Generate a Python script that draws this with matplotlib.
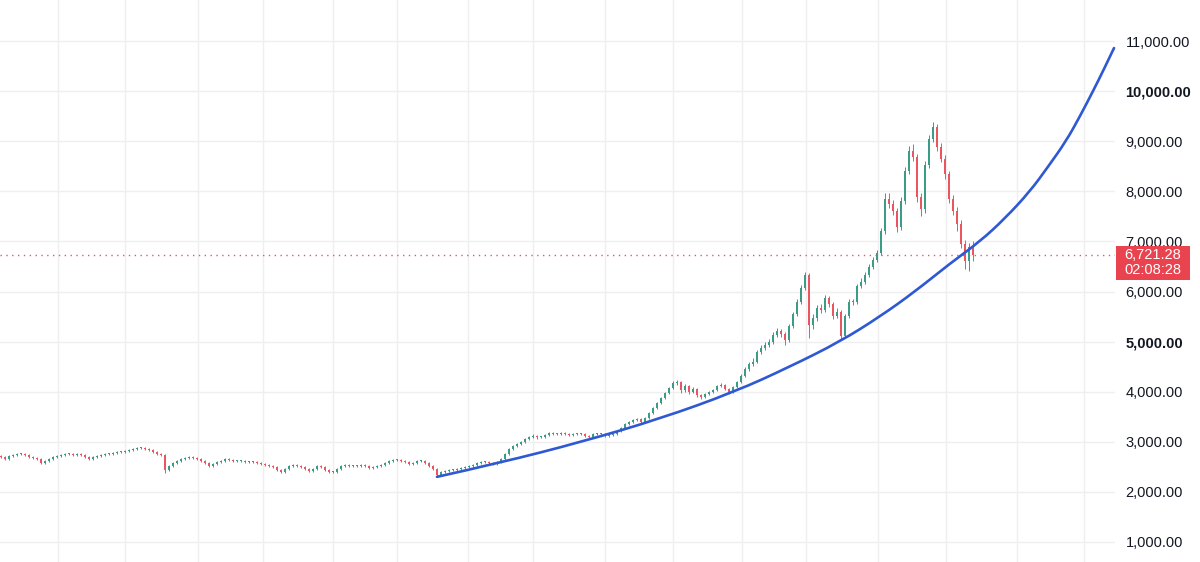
import numpy as np
import matplotlib
matplotlib.use("Agg")
import matplotlib.pyplot as plt
from matplotlib.patches import Rectangle, PathPatch
from matplotlib.path import Path
from matplotlib.transforms import blended_transform_factory

# ---- data (bar index, price) ----
closes = [2700,2660,2720,2740,2760,2760,2740,2700,2680,2660,
          2580,2620,2660,2700,2720,2740,2760,2760,2740,2760,
          2740,2700,2660,2700,2720,2740,2760,2760,2780,2800,
          2800,2820,2840,2860,2880,2880,2860,2840,2800,2760,
          2740,2440,2520,2580,2620,2660,2680,2700,2680,2660,
          2620,2580,2520,2560,2600,2620,2660,2640,2620,2620,
          2620,2600,2600,2600,2580,2560,2540,2520,2500,2440,
          2400,2460,2520,2540,2520,2500,2460,2420,2460,2520,
          2500,2440,2400,2400,2460,2520,2540,2520,2520,2520,
          2540,2520,2480,2500,2520,2540,2580,2620,2640,2640,
          2620,2600,2560,2580,2620,2620,2580,2520,2460,2340,
          2400,2420,2440,2440,2460,2480,2500,2520,2540,2580,
          2600,2600,2580,2560,2600,2660,2760,2860,2920,2960,
          3000,3060,3100,3120,3100,3100,3140,3180,3160,3160,
          3180,3160,3140,3160,3160,3160,3120,3100,3160,3160,
          3160,3120,3140,3160,3220,3280,3360,3400,3440,3460,
          3400,3480,3580,3680,3780,3880,3980,4080,4180,4200,
          4040,4120,4000,4060,3940,3900,3960,4000,4040,4120,
          4140,4060,4000,4100,4200,4320,4460,4560,4600,4800,
          4880,4940,5000,5140,5220,5160,5040,5320,5560,5800,
          6080,6320,5340,5480,5680,5640,5880,5760,5520,5600,
          5120,5520,5800,5800,6120,6200,6320,6480,6620,6760,
          7200,7840,7740,7600,7280,7800,8400,8800,8680,7880,
          7640,8520,9040,9280,8880,8640,8340,7840,7600,7340,
          6940,6600,6880,6721.28]
highs = [2740,2720,2740,2760,2780,2780,2780,2760,2720,2700,
         2680,2640,2680,2720,2740,2760,2780,2780,2780,2780,
         2780,2760,2720,2720,2740,2760,2780,2780,2800,2820,
         2820,2840,2860,2880,2900,2900,2900,2880,2860,2820,
         2780,2760,2540,2600,2640,2680,2700,2720,2720,2700,
         2680,2640,2600,2580,2620,2640,2680,2680,2660,2640,
         2640,2640,2620,2620,2620,2600,2580,2560,2540,2520,
         2460,2480,2540,2560,2560,2540,2520,2480,2480,2540,
         2540,2520,2460,2420,2480,2540,2560,2560,2540,2540,
         2560,2560,2540,2520,2540,2560,2600,2640,2660,2660,
         2660,2640,2620,2600,2640,2640,2640,2600,2540,2480,
         2420,2440,2460,2460,2480,2500,2520,2540,2560,2600,
         2620,2620,2620,2600,2620,2680,2780,2880,2940,2980,
         3020,3080,3120,3160,3140,3120,3160,3200,3200,3180,
         3200,3200,3180,3180,3180,3180,3180,3140,3180,3180,
         3180,3180,3160,3180,3240,3300,3380,3420,3460,3480,
         3480,3500,3600,3700,3800,3900,4000,4100,4220,4240,
         4220,4160,4140,4100,4080,3960,3980,4020,4060,4140,
         4180,4160,4080,4120,4220,4360,4500,4600,4680,4840,
         4940,5000,5060,5200,5280,5260,5200,5360,5600,5860,
         6140,6380,6360,5560,5740,5760,5940,5920,5800,5680,
         5640,5560,5860,5860,6160,6260,6380,6540,6680,6820,
         7260,7960,7960,7820,7660,7880,8480,8900,8940,8740,
         7960,8600,9120,9380,9340,8960,8720,8400,7920,7680,
         7420,7020,6960,7000]
lows = [2680,2640,2640,2700,2720,2740,2720,2680,2660,2640,
        2560,2560,2600,2640,2680,2700,2720,2740,2720,2720,
        2720,2680,2640,2640,2680,2700,2720,2740,2740,2760,
        2780,2780,2800,2820,2840,2860,2840,2820,2780,2740,
        2720,2380,2420,2500,2560,2600,2640,2660,2660,2640,
        2600,2560,2500,2500,2540,2580,2600,2620,2600,2600,
        2600,2580,2580,2580,2560,2540,2520,2500,2480,2420,
        2380,2380,2440,2500,2500,2480,2440,2400,2400,2440,
        2480,2420,2380,2380,2380,2440,2500,2500,2500,2500,
        2500,2500,2460,2460,2480,2500,2520,2560,2600,2620,
        2600,2580,2540,2540,2560,2600,2560,2500,2440,2300,
        2320,2380,2400,2420,2420,2440,2460,2480,2500,2520,
        2560,2580,2560,2540,2540,2580,2640,2740,2840,2900,
        2940,2980,3040,3080,3060,3080,3080,3120,3140,3140,
        3140,3140,3120,3120,3140,3140,3100,3080,3080,3140,
        3140,3100,3100,3120,3140,3200,3260,3340,3380,3420,
        3360,3380,3460,3560,3660,3760,3860,3960,4060,4140,
        3980,4000,3960,3980,3900,3860,3880,3940,3980,4020,
        4100,4040,3960,3980,4080,4180,4300,4420,4520,4580,
        4760,4840,4900,4960,5100,5100,4940,5000,5280,5520,
        5760,6040,5080,5260,5420,5580,5600,5700,5460,5480,
        5040,5080,5480,5740,5760,6080,6160,6280,6440,6580,
        6720,7140,7660,7520,7180,7220,7740,8340,8600,7780,
        7500,7560,8460,8980,8800,8580,8240,7760,7520,7200,
        6860,6440,6400,6600]
first_open = 2720
last_price = 6721.28
countdown = "02:08:28"

# time-axis grid (bar index of period boundaries)
time_grid = [14.25, 31, 49.25, 65.5, 83, 99, 116.75, 133, 151, 168,
             185.25, 201.25, 219.25, 236.25, 254, 270.75]
price_ticks = [1000, 2000, 3000, 4000, 5000, 6000, 7000, 8000, 9000, 10000, 11000]
bold_ticks = [5000, 10000]

# hand-drawn support curve (bar index, price)
curve_x = [109, 124.75, 145.25, 164.75, 183.5, 197.25, 209.75, 219.75, 228.5, 237.25,
           244.75, 251, 257.25, 261.75, 266.25, 269.75, 273, 275.75, 278.25]
curve_y = [2300, 2580, 3000, 3460, 4000, 4500, 5000, 5500, 6000, 6560,
           7000, 7460, 8000, 8490, 9000, 9500, 10000, 10440, 10860]

UP, DN = '#3a9c86', '#ea5560'
GRID = '#efeff1'
TXT = '#131722'

plt.rcParams['font.family'] = ['Liberation Sans', 'DejaVu Sans']

fig = plt.figure(figsize=(12, 5.62), dpi=100)
ax = fig.add_axes([0, 0, 1115/1200, 1])

c = np.array(closes, float)
o = np.r_[first_open, c[:-1]]
h = np.array(highs, float); l = np.array(lows, float)
x = np.arange(len(c))
cols = np.where(c >= o, UP, DN)

for g in time_grid:
    ax.axvline(g, color=GRID, lw=1, zorder=0)
for p in price_ticks:
    ax.axhline(p, color=GRID, lw=1, zorder=0)

ax.vlines(x, l, h, colors=cols, lw=0.7, zorder=2)
ax.bar(x, np.maximum(np.abs(c - o), 14), bottom=np.minimum(o, c), width=0.6,
       color=cols, linewidth=0, zorder=3)

# smooth quadratic spline through the read points (points act as control vertices)
pts = np.column_stack([curve_x, curve_y])
verts = [pts[0]]
codes = [Path.MOVETO]
for i in range(1, len(pts) - 1):
    end = pts[i + 1] if i == len(pts) - 2 else (pts[i] + pts[i + 1]) / 2
    verts += [pts[i], end]
    codes += [Path.CURVE3, Path.CURVE3]
ax.add_patch(PathPatch(Path(verts, codes), facecolor='none', edgecolor='#2f58d3',
                       lw=1.9, capstyle='round', zorder=4, clip_on=False))

ax.axhline(last_price, color=DN, lw=1, ls=(0, (1, 3.2)), zorder=1)

ax.set_xlim(-0.25, 278.5)
ax.set_ylim(600, 11820)
ax.set_xticks([])
ax.yaxis.tick_right()
ax.set_yticks(price_ticks)
ax.set_yticklabels([f'{v:,.2f}' for v in price_ticks])
ax.tick_params(axis='y', length=0, pad=7.5, labelsize=10.5, labelcolor=TXT)
for t, v in zip(ax.get_yticklabels(), price_ticks):
    if v in bold_ticks:
        t.set_fontweight('bold')
for s in ax.spines.values():
    s.set_visible(False)

# last-price badge
tr = blended_transform_factory(fig.transFigure, ax.transData)
ax.add_patch(Rectangle((1116/1200, last_price - 500), 74/1200, 680, transform=tr,
                       facecolor='#e8434f', edgecolor='none', clip_on=False, zorder=5))
ax.text(1124/1200, last_price, f'{last_price:,.2f}', transform=tr, color='white',
        fontsize=10.5, ha='left', va='center', zorder=6)
ax.text(1124/1200, last_price - 300, countdown, transform=tr, color='white',
        fontsize=10.5, ha='left', va='center', zorder=6)

fig.savefig('out.png', dpi=100, facecolor='white')
